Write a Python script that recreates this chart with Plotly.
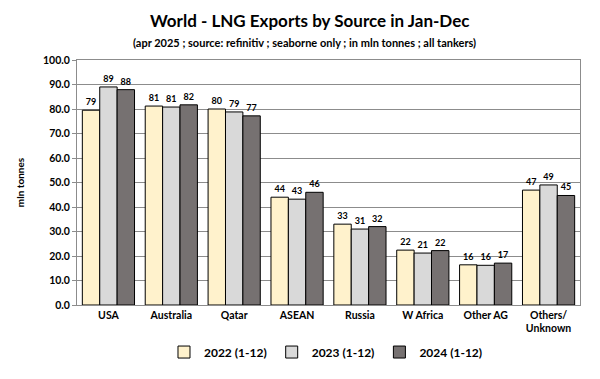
import plotly.graph_objects as go

categories = ["USA", "Australia", "Qatar", "ASEAN", "Russia", "W Africa", "Other AG", "Others/<br>Unknown"]
v2022 = [79.5, 81.2, 80.0, 44.0, 33.0, 22.4, 16.4, 46.9]
v2023 = [89.0, 80.8, 78.8, 43.2, 31.0, 21.2, 16.2, 49.0]
v2024 = [87.9, 81.7, 77.2, 46.0, 32.0, 22.2, 17.1, 44.7]
labels2022 = ["79", "81", "80", "44", "33", "22", "16", "47"]
labels2023 = ["89", "81", "79", "43", "31", "21", "16", "49"]
labels2024 = ["88", "82", "77", "46", "32", "22", "17", "45"]
series_names = ["<b>2022 (1-12)</b>", "<b>2023 (1-12)</b>", "<b>2024 (1-12)</b>"]
colors = ["#FFF2CC", "#D9D9D9", "#767171"]
y_ticks = [0, 10, 20, 30, 40, 50, 60, 70, 80, 90, 100]
y_tick_text = ["<b>%.1f</b>" % v for v in y_ticks]
cat_text = ["<b>%s</b>" % c for c in categories]

font_family = "Lato, 'Open Sans', sans-serif"

fig = go.Figure()
for name, vals, labs, col in zip(series_names, [v2022, v2023, v2024],
                                 [labels2022, labels2023, labels2024], colors):
    fig.add_trace(go.Bar(
        x=categories, y=vals, name=name,
        marker=dict(color=col, line=dict(color="#000000", width=1)),
        text=["<b>%s</b>" % t for t in labs], textposition="outside", cliponaxis=False,
        textfont=dict(size=9, color="#000000", family=font_family),
    ))

fig.update_layout(
    width=600, height=379,
    paper_bgcolor="white", plot_bgcolor="white",
    barmode="group", bargap=0.17, bargroupgap=0.0,
    margin=dict(l=69, r=28, t=52, b=82, autoexpand=False),
    font=dict(family=font_family, size=11, color="#000000"),
    showlegend=True,
    legend=dict(orientation="h", x=0.495, xanchor="center", y=-0.192, yanchor="middle",
                font=dict(size=12, family=font_family), traceorder="normal"),
    annotations=[
        dict(text="<b>World - LNG Exports by Source in Jan-Dec</b>", xref="paper", yref="paper",
             x=0.463, y=1.163, showarrow=False,
             xanchor="center", yanchor="middle", font=dict(size=17, family=font_family)),
        dict(text="<b>(apr 2025 ; source: refinitiv ; seaborne only ; in mln tonnes ; all tankers)</b>",
             xref="paper", yref="paper", x=0.453, y=1.073, showarrow=False,
             xanchor="center", yanchor="middle", font=dict(size=11, family=font_family)),
    ],
)
fig.update_yaxes(
    range=[0, 100], tickvals=y_ticks, ticktext=y_tick_text,
    showgrid=True, gridcolor="#8C8C8C", gridwidth=1,
    showline=True, linecolor="#8C8C8C", mirror=True,
    ticks="outside", ticklen=4, tickcolor="#8C8C8C",
    tickfont=dict(size=10.5, family=font_family),
    title=dict(text="<b>mln tonnes</b>", font=dict(size=10, family=font_family), standoff=16),
    zeroline=False,
)
fig.update_xaxes(
    showline=True, linecolor="#8C8C8C", mirror=True,
    tickvals=categories, ticktext=cat_text,
    tickfont=dict(size=10.5, family=font_family),
    ticks="",
)

fig.write_html("out.html")
